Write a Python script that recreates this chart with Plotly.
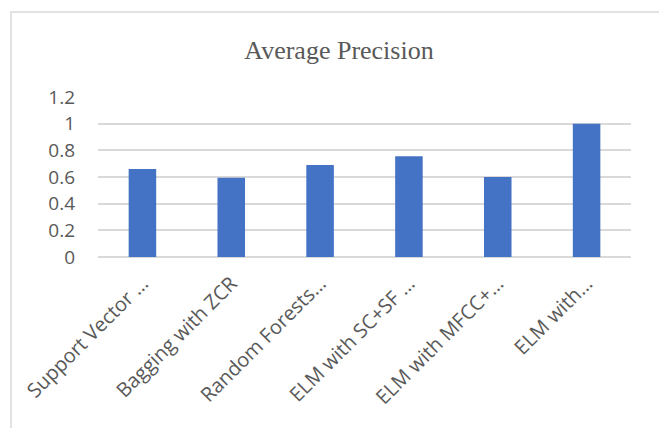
import plotly.graph_objects as go

categories = ["Support Vector …", "Bagging with ZCR", "Random Forests…",
              "ELM with SC+SF …", "ELM with MFCC+…", "ELM with…"]
precision = [0.66, 0.595, 0.69, 0.755, 0.60, 1.0]
y_ticks = [0, 0.2, 0.4, 0.6, 0.8, 1, 1.2]

W, H = 659, 428
L, R, T, B = 98, 28, 97, 171
pw, ph = W - L - R, H - T - B

def px(x):
    return (x - L) / pw

def py(y):
    return (H - B - y) / ph

fig = go.Figure(go.Bar(x=categories, y=precision, marker_color="#4472C4",
                       marker_line_width=0))

fig.add_shape(type="rect", xref="paper", yref="paper",
              x0=px(11), y0=py(440), x1=px(700), y1=py(12),
              line=dict(color="#d9d9d9", width=1.5), layer="below")

fig.update_layout(
    width=W, height=H, margin=dict(l=L, r=R, t=T, b=B),
    paper_bgcolor="white", plot_bgcolor="white",
    bargap=0.69, showlegend=False,
    title=dict(text="Average Precision", x=339 / W, xanchor="center",
               y=1 - 50 / H, yanchor="middle", xref="container", yref="container",
               font=dict(family="Liberation Serif", size=26, color="#595959")),
    xaxis=dict(showgrid=False, showline=False, ticks="", tickangle=-45,
               tickfont=dict(family="Open Sans", size=20, color="#595959"),
               ticklabelstandoff=10),
    yaxis=dict(range=[0, 1.2], tickvals=y_ticks, showgrid=True,
               gridcolor="#d9d9d9", gridwidth=1.5, zeroline=True,
               zerolinecolor="#d9d9d9", zerolinewidth=1.5, showline=False,
               tickfont=dict(family="Open Sans", size=19, color="#595959"),
               ticklabelstandoff=22),
)

fig.write_html("out.html")
